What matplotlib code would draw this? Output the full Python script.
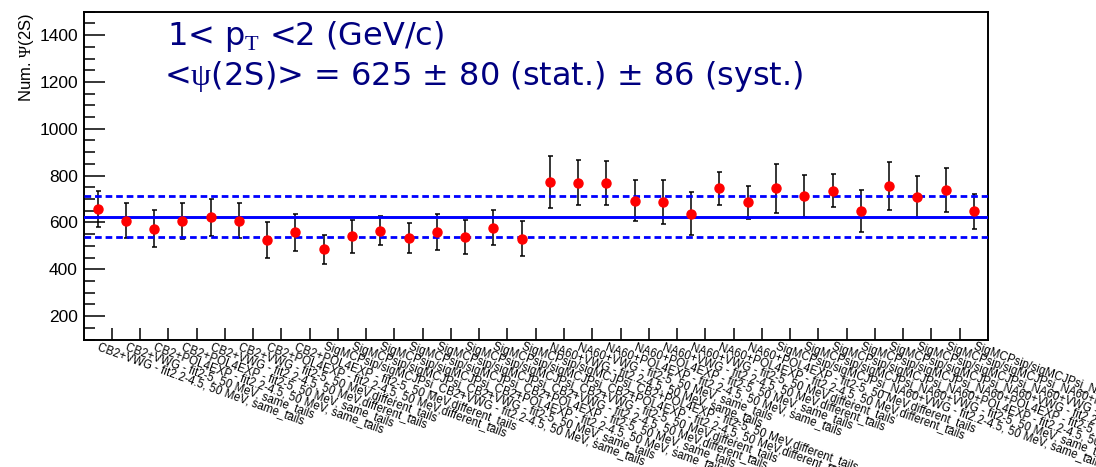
import matplotlib
matplotlib.use("Agg")
import matplotlib.pyplot as plt
from matplotlib.ticker import MultipleLocator

plt.rcParams["font.family"] = ["Liberation Sans", "DejaVu Sans"]
plt.rcParams["mathtext.fontset"] = "custom"
plt.rcParams["mathtext.rm"] = "Liberation Serif"

# fit variants, one bin each
labels = [
    "CB2+VWG - fit2.2-4.5, 50 MeV, same_tails",
    "CB2+VWG - fit2-5, 50 MeV, same_tails",
    "CB2+POL4EXP - fit2.2-4.5, 50 MeV, same_tails",
    "CB2+POL4EXP - fit2-5, 50 MeV, same_tails",
    "CB2+VWG - fit2.2-4.5, 50 MeV,different_tails",
    "CB2+VWG - fit2-5, 50 MeV,different_tails",
    "CB2+POL4EXP - fit2.2-4.5, 50 MeV,different_tails",
    "CB2+POL4EXP - fit2-5, 50 MeV,different_tails",
    "SigMCPsip/sigMCJPsi_CB2+VWG - fit2.2-4.5, 50 MeV, same_tails",
    "SigMCPsip/sigMCJPsi_CB2+VWG - fit2-5, 50 MeV, same_tails",
    "SigMCPsip/sigMCJPsi_CB2+POL4EXP - fit2.2-4.5, 50 MeV, same_tails",
    "SigMCPsip/sigMCJPsi_CB2+POL4EXP - fit2-5, 50 MeV, same_tails",
    "SigMCPsip/sigMCJPsi_CB2+VWG - fit2.2-4.5, 50 MeV,different_tails",
    "SigMCPsip/sigMCJPsi_CB2+VWG - fit2-5, 50 MeV,different_tails",
    "SigMCPsip/sigMCJPsi_CB2+POL4EXP - fit2.2-4.5, 50 MeV,different_tails",
    "SigMCPsip/sigMCJPsi_CB2+POL4EXP - fit2-5, 50 MeV,different_tails",
    "NA60+VWG - fit2.2-4.5, 50 MeV, same_tails",
    "NA60+VWG - fit2-5, 50 MeV, same_tails",
    "NA60+POL4EXP - fit2.2-4.5, 50 MeV, same_tails",
    "NA60+POL4EXP - fit2-5, 50 MeV, same_tails",
    "NA60+VWG - fit2.2-4.5, 50 MeV,different_tails",
    "NA60+VWG - fit2-5, 50 MeV,different_tails",
    "NA60+POL4EXP - fit2.2-4.5, 50 MeV,different_tails",
    "NA60+POL4EXP - fit2-5, 50 MeV,different_tails",
    "SigMCPsip/sigMCJPsi_NA60+VWG - fit2.2-4.5, 50 MeV, same_tails",
    "SigMCPsip/sigMCJPsi_NA60+VWG - fit2-5, 50 MeV, same_tails",
    "SigMCPsip/sigMCJPsi_NA60+POL4EXP - fit2.2-4.5, 50 MeV, same_tails",
    "SigMCPsip/sigMCJPsi_NA60+POL4EXP - fit2-5, 50 MeV, same_tails",
    "SigMCPsip/sigMCJPsi_NA60+VWG - fit2.2-4.5, 50 MeV,different_tails",
    "SigMCPsip/sigMCJPsi_NA60+VWG - fit2-5, 50 MeV,different_tails",
    "SigMCPsip/sigMCJPsi_NA60+POL4EXP - fit2.2-4.5, 50 MeV,different_tails",
    "SigMCPsip/sigMCJPsi_NA60+POL4EXP - fit2-5, 50 MeV,different_tails",
]
n_psi = [657, 608, 574, 605, 622, 608, 526, 559,
         485, 540, 564, 533, 559, 538, 578, 531,
         773, 770, 767, 693, 688, 638, 745, 686,
         745, 714, 735, 649, 755, 710, 738, 648]
n_err = [78, 73, 80, 76, 80, 76, 76, 79,
         63, 71, 62, 63, 78, 72, 76, 74,
         110, 95, 94, 89, 93, 90, 71, 70,
         105, 89, 70, 88, 103, 89, 95, 75]
MEAN, STAT, SYST = 625, 80, 86

W, H = 1096, 467
NAVY = "#000080"

fig = plt.figure(figsize=(W / 100, H / 100), dpi=100)
ax = fig.add_axes([83.5 / W, 1 - 339.5 / H, (988 - 83.5) / W, (339.5 - 11.7) / H])

nb = len(labels)
xc = [i + 0.5 for i in range(nb)]

ax.errorbar(xc, n_psi, yerr=n_err, fmt="none", ecolor="black",
            elinewidth=1.1, capsize=1.8, capthick=1.1, zorder=2)
ax.axhline(MEAN, color="#0000ff", lw=2.1, zorder=3)
for yy in (MEAN - SYST, MEAN + SYST):
    ax.axhline(yy, color="#0000ff", lw=2.0, ls=(0, (2.4, 1.4)), zorder=3)
ax.plot(xc, n_psi, "o", color="#ff0000", ms=6.5, mec="#ff0000", zorder=4)

ax.set_xlim(0, nb)
ax.set_ylim(100, 1500)

# y axis, ROOT look: long inward ticks on the left only
ax.yaxis.set_major_locator(MultipleLocator(200))
ax.yaxis.set_minor_locator(MultipleLocator(50))
ax.tick_params(axis="y", which="major", direction="in", length=15, width=1.1,
               labelsize=12.5, pad=4, right=False)
ax.tick_params(axis="y", which="minor", direction="in", length=8, width=1.1,
               right=False)

# x axis: ticks at bin edges, labels at bin centres rotated down
ax.set_xticks(range(1, nb), [""] * (nb - 1))
ax.tick_params(axis="x", which="major", direction="in", length=8.5, width=1.1,
               top=False)
ax.set_xticks(xc, labels, minor=True)
ax.tick_params(axis="x", which="minor", length=0, pad=5, labelsize=8.3)
plt.setp(ax.get_xticklabels(minor=True), rotation=-20, ha="left",
         va="center", rotation_mode="anchor")

for sp in ax.spines.values():
    sp.set_linewidth(1.4)

fig.text(26 / W, 1 - 13 / H, r"Num. $\mathrm{\Psi}$(2S)", rotation=90,
         ha="center", va="top", fontsize=12)

fig.text(167 / W, 1 - 45 / H, r"1< p$_{\mathrm{T}}$ <2 (GeV/c)",
         fontsize=23, color=NAVY, family="DejaVu Sans", va="baseline")
fig.text(164 / W, 1 - 85 / H,
         r"<$\mathrm{\psi}$(2S)> = %d ± %d (stat.) ± %d (syst.)" % (MEAN, STAT, SYST),
         fontsize=23, color=NAVY, family="DejaVu Sans", va="baseline")

fig.savefig("out.png", dpi=100)
